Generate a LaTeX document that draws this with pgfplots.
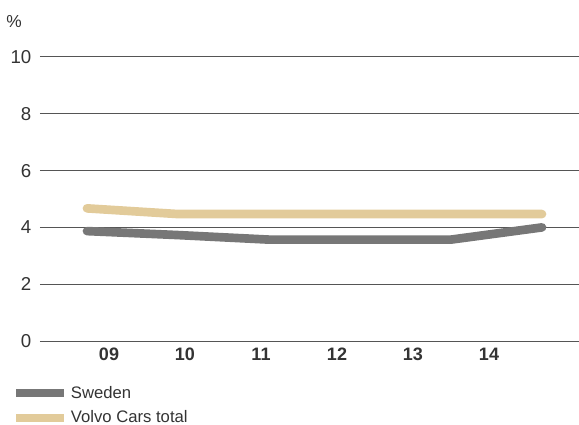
\documentclass[border=0pt]{standalone}
\usepackage{pgfplots}
\pgfplotsset{compat=1.18}
\usepackage{fontspec}
\setmainfont{Liberation Sans}
\definecolor{swe}{HTML}{777777}
\definecolor{vct}{HTML}{E2CB9A}
\definecolor{txt}{HTML}{333333}
\definecolor{gridc}{HTML}{555555}
\begin{document}
\begin{tikzpicture}
\path[use as bounding box] (-30pt,-63pt) rectangle (404.25pt,255.75pt);
\begin{axis}[
  at={(0pt,0pt)}, anchor=south west,
  scale only axis, width=404.25pt, height=213pt,
  xmin=-0.5165, xmax=5.4066, ymin=0, ymax=10,
  axis line style={draw=none},
  major tick length=0pt,
  ytick={0,2,4,6,8,10},
  ymajorgrids, grid style={gridc, line width=0.75pt},
  xtick={0.2418,1.0769,1.9121,2.7473,3.5824,4.4176},
  xticklabels={09,10,11,12,13,14},
  /pgf/number format/assume math mode=true,
  yticklabel style={font=\fontsize{14}{16}\selectfont, text=txt, xshift=-3pt},
  xticklabel style={font=\fontsize{13.5}{16}\selectfont\bfseries, text=txt, yshift=-1.5pt},
  clip=false,
  legend style={at={(rel axis cs:-0.052,-0.148)}, anchor=north west, draw=none, fill=none,
    font=\fontsize{12.5}{14}\selectfont, text=txt, row sep=4pt, inner sep=0pt,
    cells={anchor=west}},
  legend image code/.code={\draw[#1, line width=6pt, line cap=butt] (0pt,0pt) -- (36pt,0pt);},
  legend cell align=left,
]
\addplot[swe, line width=6.5pt, line cap=round, line join=round] coordinates {
  (0,3.87) (1,3.73) (2,3.57) (3,3.57) (4,3.57) (5,4.0)};
\addlegendentry{Sweden}
\addplot[vct, line width=6.5pt, line cap=round, line join=round] coordinates {
  (0,4.67) (1,4.47) (2,4.47) (3,4.47) (4,4.47) (5,4.47)};
\addlegendentry{Volvo Cars total}
\node[text=txt, font=\fontsize{13}{15}\selectfont] at (rel axis cs:-0.048,1.125) {\%};
\end{axis}
\end{tikzpicture}
\end{document}
